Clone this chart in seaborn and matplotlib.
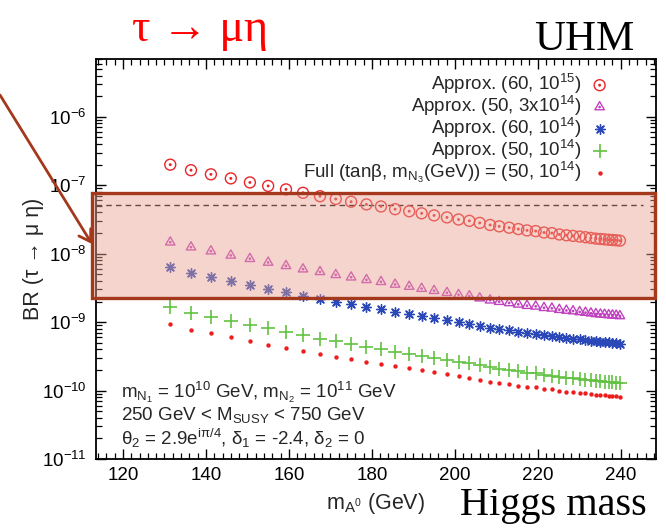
import numpy as np
import pandas as pd
import matplotlib
matplotlib.use("Agg")
import matplotlib.pyplot as plt
import seaborn as sns
from matplotlib.path import Path
from matplotlib.markers import MarkerStyle
from matplotlib.patches import Rectangle, FancyArrowPatch
from matplotlib.ticker import LogLocator, LogFormatterMathtext, MultipleLocator, NullFormatter, FixedLocator

# ---------------- data ----------------
m_A = [131.4, 136.4, 141.2, 146.0, 150.6, 155.0, 159.3, 163.4, 167.5, 171.3,
       175.0, 178.7, 182.2, 185.6, 189.0, 192.0, 195.0, 198.1, 200.9, 203.5,
       206.0, 208.5, 210.7, 213.1, 215.3, 217.4, 219.5, 221.5, 223.4, 225.2,
       226.9, 228.5, 230.1, 231.5, 232.8, 234.0, 235.1, 236.1, 237.1, 238.0,
       238.9, 239.8]

br_approx_60_1e15 = [2.00e-7, 1.66e-7, 1.445e-7, 1.26e-7, 1.10e-7, 9.77e-8, 8.71e-8, 7.76e-8, 6.92e-8, 6.31e-8,
                     5.75e-8, 5.25e-8, 4.90e-8, 4.47e-8, 4.17e-8, 3.89e-8, 3.63e-8, 3.39e-8, 3.16e-8, 3.02e-8,
                     2.82e-8, 2.63e-8, 2.51e-8, 2.40e-8, 2.29e-8, 2.19e-8, 2.14e-8, 2.04e-8, 2.00e-8, 1.91e-8,
                     1.86e-8, 1.82e-8, 1.78e-8, 1.74e-8, 1.70e-8, 1.66e-8, 1.64e-8, 1.62e-8, 1.60e-8, 1.585e-8,
                     1.57e-8, 1.55e-8]

br_approx_50_3e14 = [1.47e-8, 1.245e-8, 1.09e-8, 9.45e-9, 8.44e-9, 7.44e-9, 6.65e-9, 5.94e-9, 5.43e-9, 4.91e-9,
                     4.53e-9, 4.15e-9, 3.89e-9, 3.55e-9, 3.31e-9, 3.09e-9, 2.88e-9, 2.69e-9, 2.51e-9, 2.40e-9,
                     2.24e-9, 2.09e-9, 1.99e-9, 1.91e-9, 1.82e-9, 1.74e-9, 1.70e-9, 1.62e-9, 1.59e-9, 1.52e-9,
                     1.48e-9, 1.45e-9, 1.41e-9, 1.38e-9, 1.35e-9, 1.32e-9, 1.30e-9, 1.29e-9, 1.27e-9, 1.26e-9,
                     1.25e-9, 1.23e-9]

br_approx_60_1e14 = [6.32e-9, 5.25e-9, 4.57e-9, 3.98e-9, 3.47e-9, 3.09e-9, 2.75e-9, 2.45e-9, 2.19e-9, 2.00e-9,
                     1.82e-9, 1.66e-9, 1.55e-9, 1.41e-9, 1.32e-9, 1.23e-9, 1.15e-9, 1.07e-9, 1.00e-9, 9.55e-10,
                     8.91e-10, 8.32e-10, 7.94e-10, 7.59e-10, 7.24e-10, 6.92e-10, 6.76e-10, 6.46e-10, 6.31e-10, 6.03e-10,
                     5.89e-10, 5.75e-10, 5.62e-10, 5.50e-10, 5.37e-10, 5.25e-10, 5.19e-10, 5.13e-10, 5.06e-10, 5.01e-10,
                     4.95e-10, 4.85e-10]

br_approx_50_1e14 = [1.66e-9, 1.38e-9, 1.20e-9, 1.05e-9, 9.15e-10, 8.13e-10, 7.25e-10, 6.46e-10, 5.76e-10, 5.25e-10,
                     4.78e-10, 4.37e-10, 4.08e-10, 3.72e-10, 3.47e-10, 3.24e-10, 3.02e-10, 2.82e-10, 2.63e-10, 2.51e-10,
                     2.35e-10, 2.19e-10, 2.09e-10, 2.00e-10, 1.91e-10, 1.82e-10, 1.78e-10, 1.70e-10, 1.66e-10, 1.59e-10,
                     1.55e-10, 1.51e-10, 1.48e-10, 1.45e-10, 1.41e-10, 1.38e-10, 1.36e-10, 1.35e-10, 1.33e-10, 1.32e-10,
                     1.31e-10, 1.29e-10]

br_full_50_1e14 = [9.36e-10, 7.80e-10, 6.83e-10, 6.00e-10, 5.26e-10, 4.70e-10, 4.22e-10, 3.78e-10, 3.38e-10, 3.10e-10,
                   2.85e-10, 2.61e-10, 2.45e-10, 2.25e-10, 2.11e-10, 1.97e-10, 1.84e-10, 1.73e-10, 1.61e-10, 1.55e-10,
                   1.45e-10, 1.35e-10, 1.29e-10, 1.24e-10, 1.18e-10, 1.13e-10, 1.11e-10, 1.06e-10, 1.04e-10, 9.95e-11,
                   9.69e-11, 9.50e-11, 9.29e-11, 9.10e-11, 8.89e-11, 8.70e-11, 8.59e-11, 8.49e-11, 8.40e-11, 8.32e-11,
                   8.24e-11, 8.14e-11]

series_labels = [
    r"Approx. (60, 10$^{\mathregular{15}}$)",
    r"Approx. (50, 3x10$^{\mathregular{14}}$)",
    r"Approx. (60, 10$^{\mathregular{14}}$)",
    r"Approx. (50, 10$^{\mathregular{14}}$)",
    r"Full (tanβ, m$_{\mathregular{N_3}}$(GeV)) = (50, 10$^{\mathregular{14}}$)",
]
x_ticks = [120, 140, 160, 180, 200, 220, 240]
BR_BOUND = 5.1e-8

# ---------------- style ----------------
sns.set_style("ticks")
plt.rcParams["font.family"] = ["Liberation Sans", "DejaVu Sans"]
plt.rcParams["mathtext.fontset"] = "custom"
plt.rcParams["mathtext.rm"] = "Liberation Sans"
plt.rcParams["mathtext.it"] = "Liberation Sans:italic"
plt.rcParams["mathtext.bf"] = "Liberation Sans:bold"
plt.rcParams["axes.unicode_minus"] = False
FS = 13.5
FS_LAB = 15.5

fig = plt.figure(figsize=(6.66, 5.30), dpi=100)
fig.patch.set_facecolor("white")
W, H = 666.0, 530.0
ax = fig.add_axes([96 / W, 1 - 459 / H, 560 / W, 400 / H])
ax.set_yscale("log")

# custom markers: circle with centre dot, triangle with centre dot, 8-arm asterisk
circ_dot = MarkerStyle(Path.make_compound_path(Path.unit_circle(), Path.circle((0, 0), 0.14)))
tri_dot = MarkerStyle(Path.make_compound_path(Path.unit_regular_polygon(3), Path.circle((0, 0), 0.12)))
star8 = MarkerStyle((8, 2, 0))

specs = [
    (br_approx_60_1e15, circ_dot, "#e8262a", 62, "none", 1.0),
    (br_approx_50_3e14, tri_dot, "#c040c0", 62, "none", 1.0),
    (br_approx_60_1e14, star8, "#2a48b8", 48, None, 1.0),
    (br_approx_50_1e14, "+", "#62c243", 95, None, 1.2),
    (br_full_50_1e14, "o", "#ee1c1c", 10, "#ee1c1c", 0.0),
]

for (vals, mk, col, s, fc, lw), lab in zip(specs, series_labels):
    df = pd.DataFrame({"m_A": m_A, "BR": vals})
    kw = dict(marker=mk, s=s, color=col, edgecolor=col, linewidth=lw, label=lab, ax=ax, zorder=3)
    if fc is not None:
        kw["facecolor"] = fc
    sns.scatterplot(data=df, x="m_A", y="BR", **kw)

ax.axhline(BR_BOUND, xmin=0.0, xmax=0.977, color="black", linestyle=(0, (4, 3)), linewidth=1.0, zorder=2)

ax.set_xlim(113.5, 248.5)
ax.set_ylim(1e-11, 7e-6)
ax.xaxis.set_major_locator(FixedLocator(x_ticks))
ax.xaxis.set_minor_locator(MultipleLocator(2))
ax.yaxis.set_major_locator(LogLocator(base=10, numticks=20))
ax.yaxis.set_minor_locator(LogLocator(base=10, subs=np.arange(2, 10), numticks=100))
ax.yaxis.set_major_formatter(LogFormatterMathtext())
ax.yaxis.set_minor_formatter(NullFormatter())
ax.tick_params(which="both", direction="in", top=True, right=True, labelsize=FS, colors="black")
ax.tick_params(which="major", length=7, width=1.0)
ax.tick_params(which="minor", length=4, width=0.9)
ax.tick_params(axis="y", pad=7)
ax.tick_params(axis="x", pad=6)
for sp in ax.spines.values():
    sp.set_linewidth(1.3)
    sp.set_color("black")

ax.set_xlabel(r"m$_{\mathregular{A}^{\mathregular{0}}}$ (GeV)", fontsize=FS_LAB)
ax.xaxis.set_label_coords(0.5, -0.08)
ax.set_ylabel("BR (τ → μ η)", fontsize=FS_LAB)
ax.yaxis.set_label_coords(-0.093, 0.5)

leg = ax.legend(loc="upper right", bbox_to_anchor=(609 / W, 1 - 72 / H), bbox_transform=fig.transFigure,
                frameon=False, markerfirst=False, fontsize=FS, handlelength=1.0, handletextpad=0.45,
                labelspacing=-0.12, borderpad=0, borderaxespad=0, scatterpoints=1)

ann = [
    r"m$_{\mathregular{N_1}}$ = 10$^{\mathregular{10}}$ GeV, m$_{\mathregular{N_2}}$ = 10$^{\mathregular{11}}$ GeV",
    r"250 GeV < M$_{\mathregular{SUSY}}$ < 750 GeV",
    r"θ$_{\mathregular{2}}$ = 2.9e$^{\mathregular{iπ/4}}$, δ$_{\mathregular{1}}$ = -2.4, δ$_{\mathregular{2}}$ = 0",
]
for txt, yy in zip(ann, [392, 415, 438]):
    fig.text(121 / W, 1 - yy / H, txt, fontsize=FS, ha="left", va="center")

# overlay box and arrow
box = Rectangle((92 / W, 1 - 298 / H), (655 - 92) / W, (298 - 193) / H, transform=fig.transFigure,
                facecolor=(0.91, 0.63, 0.56, 0.45), edgecolor="#a3381c", linewidth=2.4, zorder=5)
fig.add_artist(box)
arr = FancyArrowPatch((0 / W, 1 - 95 / H), (92 / W, 1 - 244 / H), transform=fig.transFigure,
                      arrowstyle="->,head_length=8,head_width=5", color="#a3381c", linewidth=2.0,
                      zorder=6, shrinkA=0, shrinkB=0)
fig.add_artist(arr)

serif = ["Liberation Serif", "DejaVu Serif"]
fig.text(200 / W, 1 - 30 / H, "τ → μη", color="red", fontsize=33, family=serif, ha="center", va="center")
fig.text(634 / W, 1 - 50 / H, "UHM", color="black", fontsize=31, family=serif, ha="right", va="baseline")
fig.text(647 / W, 1 - 515 / H, "Higgs mass", color="black", fontsize=29, family=serif, ha="right", va="baseline")

fig.savefig("out.png", dpi=100, facecolor="white")
